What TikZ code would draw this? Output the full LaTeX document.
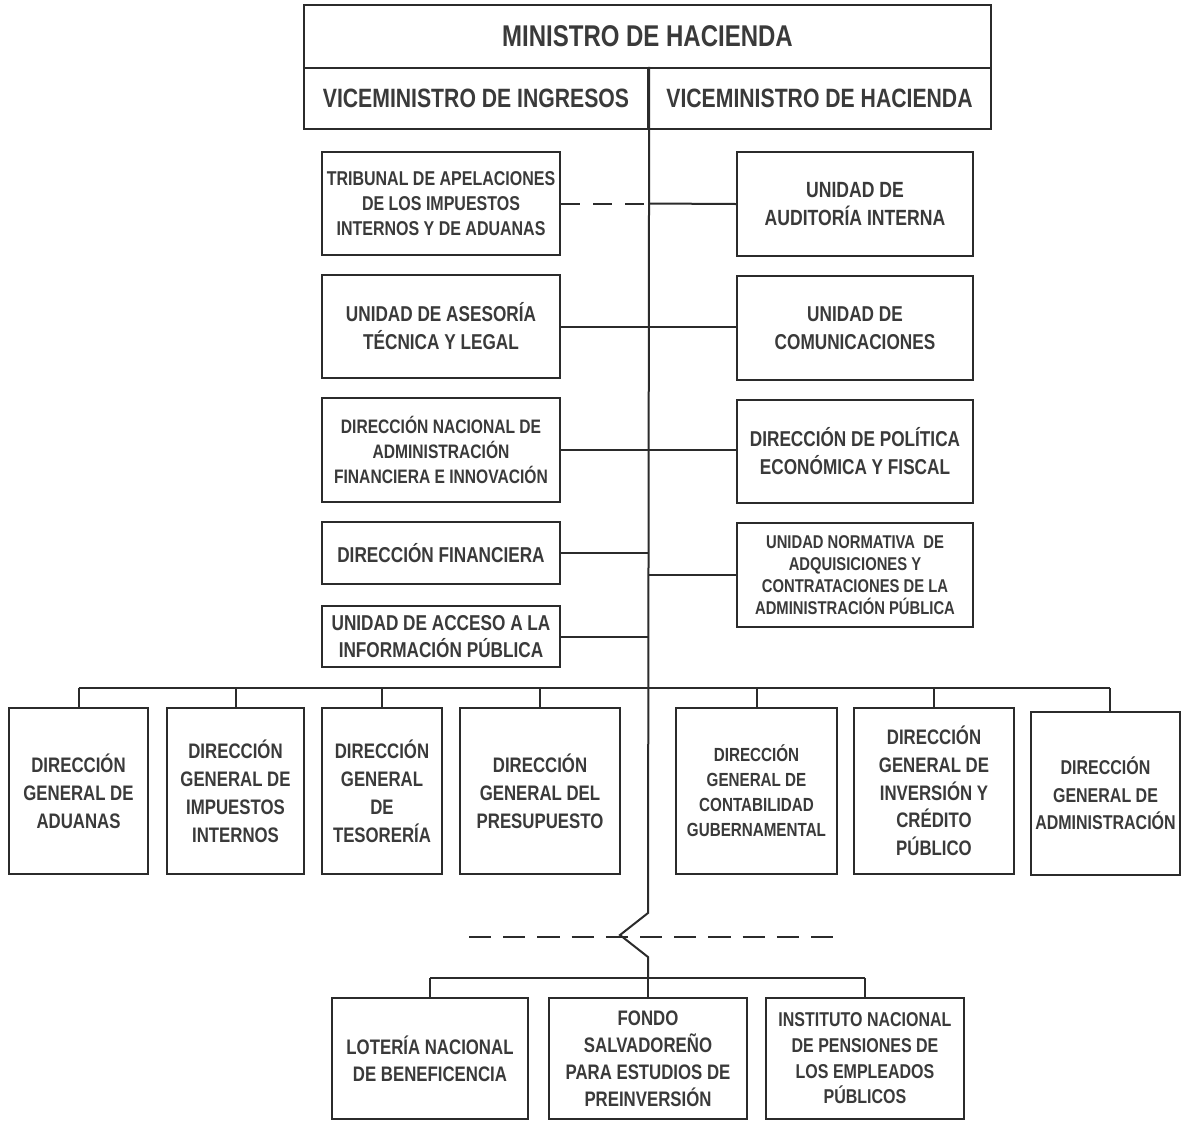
\documentclass[tikz,border=0pt]{standalone}
\usepackage{fontspec}
\setmainfont{Liberation Sans}[FakeStretch=0.8]
\definecolor{lc}{HTML}{2B2B2B}
\definecolor{tc}{HTML}{3A3A3A}
\newcommand{\fsz}[2]{\fontsize{#1}{#2}\selectfont\bfseries}
\begin{document}
\begin{tikzpicture}[x=1pt,y=-1pt,
  box/.style={draw=lc, line width=2.4pt, inner sep=1pt, align=center, text=tc, font=\fsz{21}{28}},
  bx/.style 2 args={box, minimum width=#1, minimum height=#2},
  conn/.style={draw=lc, line width=2pt},
  dconn/.style={conn, dash pattern=on 19pt off 13pt},
  bconn/.style={draw=lc, line width=2.6pt, dash pattern=on 22.2pt off 12pt}]
\useasboundingbox[fill=white] (0,0) rectangle (1182,1122);

% top block
\node[bx={687}{63}, font=\fsz{30}{34}] (min) at (647.5,36.5) {MINISTRO DE HACIENDA};
\node[bx={344}{61}, font=\fsz{26.5}{30}] (vi) at (476,98.5) {VICEMINISTRO DE INGRESOS};
\node[bx={343}{61}, font=\fsz{26.5}{30}] (vh) at (819.5,98.5) {VICEMINISTRO DE HACIENDA};

% staff units
\node[bx={238}{103}, font=\fsz{20}{25}] (trib) at (441,203.5) {TRIBUNAL DE APELACIONES\\DE LOS IMPUESTOS\\INTERNOS Y DE ADUANAS};
\node[bx={236}{104}, font=\fsz{22}{28}] (aud) at (855,204) {UNIDAD DE\\AUDITORÍA INTERNA};
\node[bx={238}{103}, font=\fsz{21.5}{28}] (ase) at (441,326.5) {UNIDAD DE ASESORÍA\\TÉCNICA Y LEGAL};
\node[bx={236}{104}, font=\fsz{21.5}{28}] (com) at (855,328) {UNIDAD DE\\COMUNICACIONES};
\node[bx={238}{104}, font=\fsz{19.5}{25}] (dna) at (441,450) {DIRECCIÓN NACIONAL DE\\ADMINISTRACIÓN\\FINANCIERA E INNOVACIÓN};
\node[bx={236}{103}, font=\fsz{21.5}{28}] (dpe) at (855,451.5) {DIRECCIÓN DE POLÍTICA\\ECONÓMICA Y FISCAL};
\node[bx={238}{62}, font=\fsz{21.5}{28}] (dfi) at (441,553) {DIRECCIÓN FINANCIERA};
\node[bx={236}{104}, font=\fsz{18.5}{22}] (una) at (855,575) {UNIDAD NORMATIVA~ DE\\ADQUISICIONES Y\\CONTRATACIONES DE LA\\ADMINISTRACIÓN PÚBLICA};
\node[bx={238}{61}, font=\fsz{21.5}{27}] (uai) at (441,636.5) {UNIDAD DE ACCESO A LA\\INFORMACIÓN PÚBLICA};

% general directions
\node[bx={139}{166}] (b1) at (78.5,791) {DIRECCIÓN\\GENERAL DE\\ADUANAS};
\node[bx={137}{166}] (b2) at (235.5,791) {DIRECCIÓN\\GENERAL DE\\IMPUESTOS\\INTERNOS};
\node[bx={120}{166}] (b3) at (382,791) {DIRECCIÓN\\GENERAL\\DE\\TESORERÍA};
\node[bx={160}{166}] (b4) at (540,791) {DIRECCIÓN\\GENERAL DEL\\PRESUPUESTO};
\node[bx={161}{166}, font=\fsz{19}{25}] (b5) at (756.5,791) {DIRECCIÓN\\GENERAL DE\\CONTABILIDAD\\GUBERNAMENTAL};
\node[bx={160}{166}, font=\fsz{21}{27.7}] (b6) at (934,791) {DIRECCIÓN\\GENERAL DE\\INVERSIÓN Y\\CRÉDITO\\PÚBLICO};
\node[bx={149}{163}, font=\fsz{20}{27.5}] (b7) at (1105.5,793.5) {DIRECCIÓN\\GENERAL DE\\ADMINISTRACIÓN};

% decentralised institutions
\node[bx={196}{121}, font=\fsz{21}{27}] (lot) at (430,1058.5) {LOTERÍA NACIONAL\\DE BENEFICENCIA};
\node[bx={198}{121}, font=\fsz{21}{27}] (fon) at (648,1058.5) {FONDO\\SALVADOREÑO\\PARA ESTUDIOS DE\\PREINVERSIÓN};
\node[bx={198}{121}, font=\fsz{20}{25.7}] (ins) at (865,1058.5) {INSTITUTO NACIONAL\\DE PENSIONES DE\\LOS EMPLEADOS\\PÚBLICOS};

% spine coordinates
\coordinate (s0) at (vi.north east);
\coordinate (busL) at (80,688);
\coordinate (b7s) at ([xshift=4.5pt]b7.north);
\coordinate (z1) at (648,913);
\coordinate (z2) at (620,935);
\coordinate (z3) at (648,957);
\coordinate (lb) at (648,978);
\coordinate (dl) at (469,937);
\coordinate (dr) at (833,937);

% spine
\draw[conn] (s0) -- (z1) -- (z2) -- (z3) -- (lb);

% staff connectors
\draw[dconn] (trib.east) -- (trib.east -| s0);
\draw[conn] (trib.east -| s0) -- (aud.west);
\draw[conn] (ase.east) -- (ase.east -| com.west);
\draw[conn] (dna.east) -- (dna.east -| dpe.west);
\draw[conn] (dfi.east) -- (dfi.east -| s0);
\draw[conn] (una.west) -- (una.west -| s0);
\draw[conn] (uai.east) -- (uai.east -| s0);

% bus of general directions
\draw[conn] (b1.north |- busL) -- (b7s |- busL);
\foreach \b in {b1,b2,b3,b4,b5,b6}
  \draw[conn] (\b.north) -- (\b.north |- busL);
\draw[conn] (b7s) -- (b7s |- busL);

% dashed separator
\draw[bconn] (dl) -- (dr);

% lower bus
\draw[conn] (lot.north |- lb) -- (ins.north |- lb);
\foreach \b in {lot,fon,ins}
  \draw[conn] (\b.north) -- (\b.north |- lb);
\end{tikzpicture}
\end{document}
